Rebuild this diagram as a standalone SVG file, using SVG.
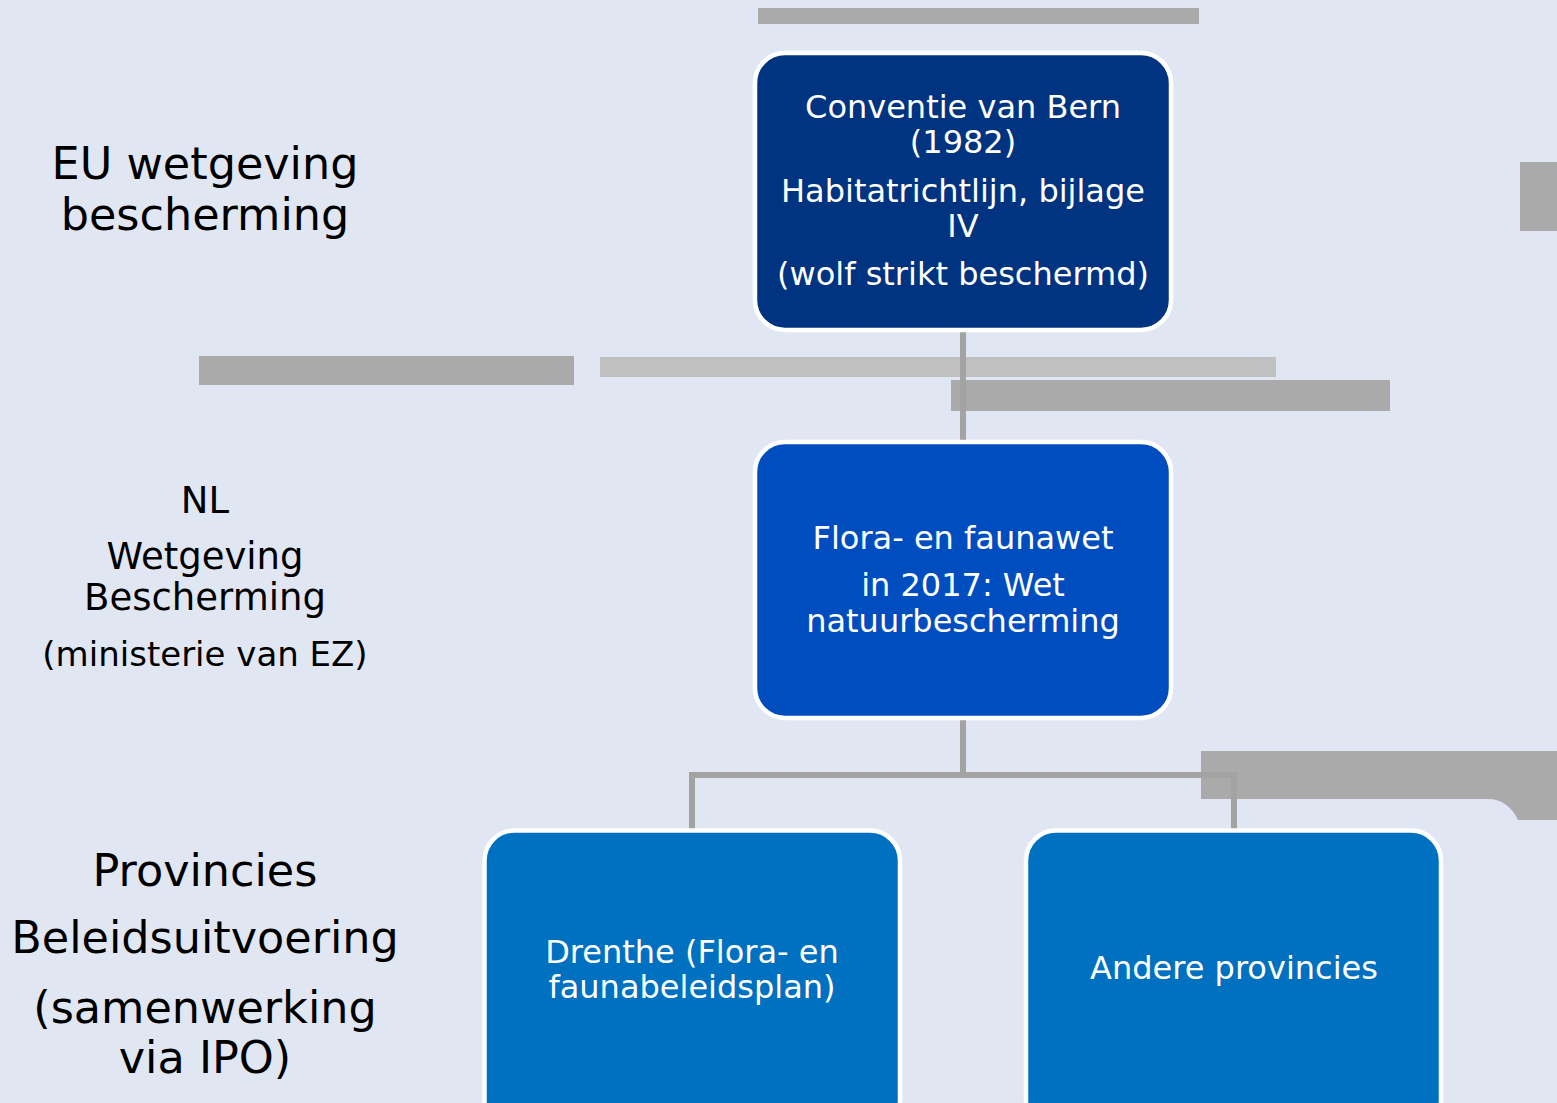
<svg xmlns="http://www.w3.org/2000/svg" width="1557" height="1103" viewBox="0 0 1557 1103">
<style>
.lbl{font-family:"DejaVu Sans","Verdana",sans-serif;fill:#000;text-anchor:middle}
.bt{font-family:"DejaVu Sans","Verdana",sans-serif;fill:#fff;text-anchor:middle;font-size:32px}
.box{stroke:#fff;stroke-width:4.5}
.bar{fill:#aaaaaa}
.conn{stroke:#a3a3a3;stroke-width:6;fill:none}
</style>
<rect x="0" y="0" width="1557" height="1103" fill="#e0e7f3"/>
<g id="decor">
<rect class="bar" x="758" y="8" width="441" height="16"/>
<rect class="bar" x="1520" y="162" width="37" height="69"/>
<rect class="bar" x="199" y="356" width="375" height="29"/>
<rect x="600" y="357" width="676" height="20" fill="#c0c0c0"/>
<rect class="bar" x="951" y="380" width="439" height="31"/>
<path class="bar" d="M1201,751 H1557 V820 H1518 C1512,807 1502,799 1488,799 H1201 Z"/>
</g>
<g id="labels">
<text class="lbl" font-size="44.5" x="205" y="179">EU wetgeving</text>
<text class="lbl" font-size="44.5" x="205" y="230">bescherming</text>
<text class="lbl" font-size="37" x="205" y="513">NL</text>
<text class="lbl" font-size="37" x="205" y="569">Wetgeving</text>
<text class="lbl" font-size="37" x="205" y="610">Bescherming</text>
<text class="lbl" font-size="34" x="205" y="666">(ministerie van EZ)</text>
<text class="lbl" font-size="44.5" x="205" y="886">Provincies</text>
<text class="lbl" font-size="44.5" x="205" y="953">Beleidsuitvoering</text>
<text class="lbl" font-size="44.5" x="205" y="1023">(samenwerking</text>
<text class="lbl" font-size="44.5" x="205" y="1073">via IPO)</text>
</g>
<g id="connectors">
<line class="conn" x1="963" y1="330" x2="963" y2="442" stroke="#999999"/>
<path class="conn" d="M963,718 V775 M692,830 V775 H1234 V830"/>
</g>
<g id="node-bern">
<rect class="box" x="755" y="53" width="416" height="277" rx="30" fill="#003380"/>
<text class="bt" x="963" y="118">Conventie van Bern</text>
<text class="bt" x="963" y="153">(1982)</text>
<text class="bt" x="963" y="202">Habitatrichtlijn, bijlage</text>
<text class="bt" x="963" y="237">IV</text>
<text class="bt" x="963" y="285">(wolf strikt beschermd)</text>
</g>
<g id="node-ffwet">
<rect class="box" x="755" y="442" width="416" height="276" rx="30" fill="#004dbf"/>
<text class="bt" x="963" y="549">Flora- en faunawet</text>
<text class="bt" x="963" y="596">in 2017: Wet</text>
<text class="bt" x="963" y="632">natuurbescherming</text>
</g>
<g id="node-drenthe">
<rect class="box" x="484.5" y="830.5" width="415.5" height="300" rx="30" fill="#0070c0"/>
<text class="bt" x="692" y="963">Drenthe (Flora- en</text>
<text class="bt" x="692" y="998">faunabeleidsplan)</text>
</g>
<g id="node-andere">
<rect class="box" x="1026" y="830.5" width="415" height="300" rx="30" fill="#0070c0"/>
<text class="bt" x="1234" y="979">Andere provincies</text>
</g>
</svg>
